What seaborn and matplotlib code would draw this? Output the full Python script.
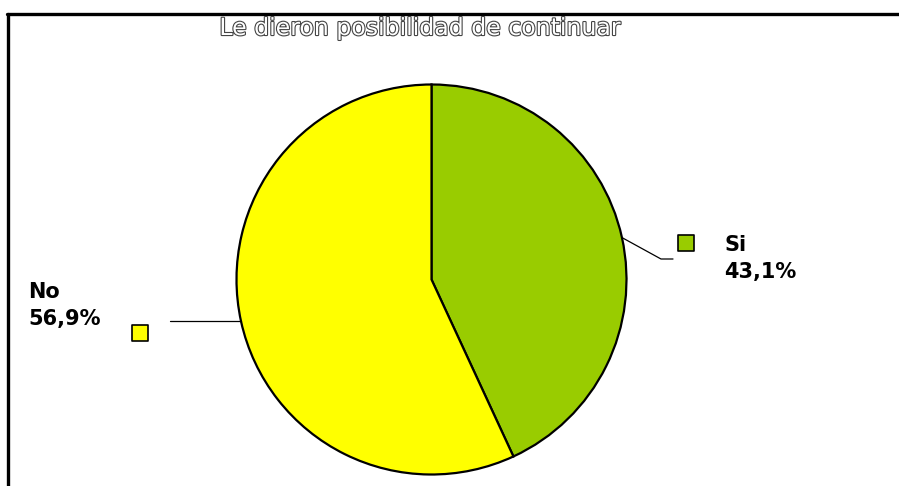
import matplotlib
matplotlib.use("Agg")
import matplotlib.pyplot as plt
import matplotlib.patheffects as pe
import numpy as np
import seaborn as sns

# ---- data ----
title = "Le dieron posibilidad de continuar"
categories = ["Si", "No"]
values = [43.1, 56.9]
value_labels = ["43,1%", "56,9%"]
colors = ["#99CC00", "#FFFF00"]

sns.set_theme(style="white")
plt.rcParams['font.family'] = ['DejaVu Sans']
plt.rcParams['text.color'] = 'black'

W, H = 899, 486
fig = plt.figure(figsize=(W / 100, H / 100), dpi=100)
ax = fig.add_axes([0, 0, 1, 1])

cx, cy, R = 431.5, 279.5, 195
wedges, _ = ax.pie(values, colors=colors, startangle=-90, counterclock=True,
                   center=(cx, cy), radius=R,
                   wedgeprops=dict(edgecolor="black", linewidth=1.6))
ax.set_xlim(0, W)
ax.set_ylim(H, 0)
ax.set_aspect("equal", adjustable="box")
ax.axis("off")

# leader lines from wedge mid-angles
mids = [np.deg2rad((w.theta1 + w.theta2) / 2) for w in wedges]
p_si = (cx + R * np.cos(mids[0]), cy + R * np.sin(mids[0]))
p_no = (cx + R * np.cos(mids[1]), cy + R * np.sin(mids[1]))
ax.plot([p_si[0], 661, 673], [p_si[1], 259, 259], color="black", lw=0.9)
ax.plot([p_no[0], 170], [p_no[1], p_no[1]], color="black", lw=0.9)

# legend squares
ax.scatter([686], [243], marker="s", s=120, color=colors[0], edgecolor="black", linewidth=1.2, zorder=5)
ax.scatter([139.5], [332.5], marker="s", s=120, color=colors[1], edgecolor="black", linewidth=1.2, zorder=5)

fs = 15
ax.text(724, 251, categories[0], fontsize=fs, fontweight="bold", color="black", ha="left", va="baseline")
ax.text(724, 278, value_labels[0], fontsize=fs, fontweight="bold", color="black", ha="left", va="baseline")
ax.text(28, 298, categories[1], fontsize=fs, fontweight="bold", color="black", ha="left", va="baseline")
ax.text(28, 325, value_labels[1], fontsize=fs, fontweight="bold", color="black", ha="left", va="baseline")

ax.text(420, 35, title, fontsize=17, color="white", ha="center", va="baseline",
        path_effects=[pe.withStroke(linewidth=1.6, foreground="#444444")])

# frame lines
ax.plot([7, W], [13.5, 13.5], color="black", lw=2.4, clip_on=False)
ax.plot([7.5, 7.5], [13.5, H], color="black", lw=2.4, clip_on=False)

fig.savefig("out.png", dpi=100)
